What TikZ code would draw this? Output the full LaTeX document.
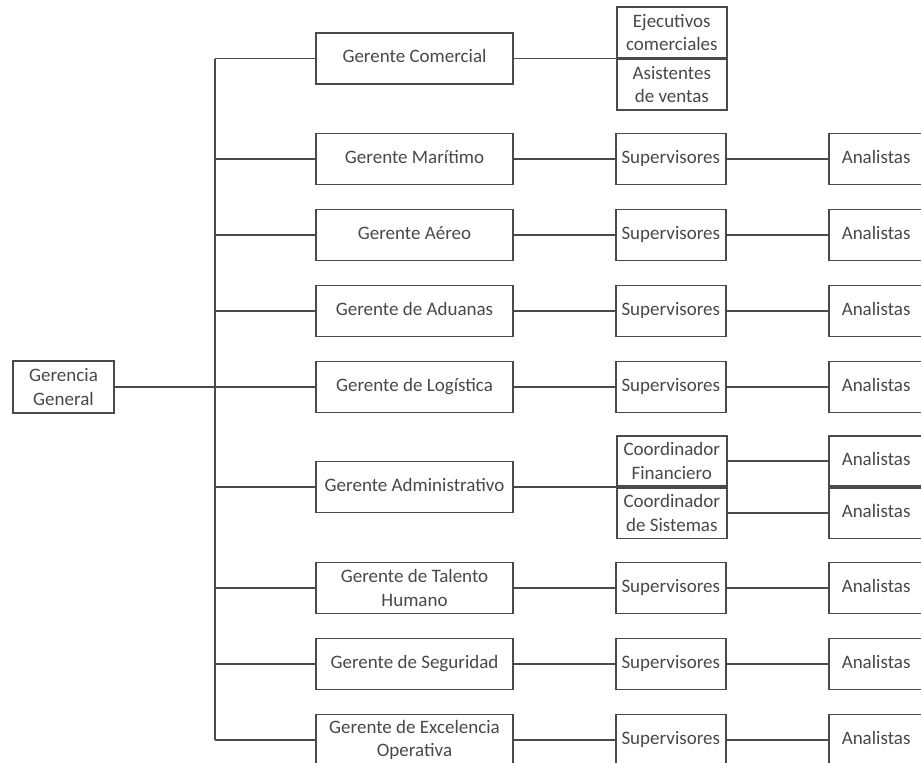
\documentclass[tikz,border=0pt]{standalone}
\usepackage{fontspec}
\setmainfont{Carlito}
\usetikzlibrary{positioning,calc}
\definecolor{orgLine}{HTML}{4A4A4A}
\definecolor{orgText}{HTML}{484848}
\tikzset{
  orgnode/.style={
    draw=orgLine, line width=1.8pt, minimum height=51pt, inner sep=0pt,
    font=\fontsize{19}{23.5}\selectfont, text=orgText, align=center
  },
  fila/.style={text height=12.5pt, text depth=4pt},
  gerente/.style={orgnode, fila, minimum width=197pt},
  gerentedos/.style={orgnode, minimum width=197pt},
  puesto/.style={orgnode, fila, minimum width=110pt},
  analista/.style={orgnode, fila, minimum width=95pt},
  celda/.style={orgnode, minimum width=110pt, minimum height=50.5pt},
  enlace/.style={draw=orgLine, line width=1.5pt}
}
\begin{document}
\begin{tikzpicture}[x=1pt, y=-1pt, node distance=101pt]
  \useasboundingbox (0,0) rectangle (921,763);
  % direccion y gerencias
  \node[orgnode, minimum width=101pt, minimum height=52pt] (gg) at (63.5,387) {Gerencia\\General};
  \node[gerente] (gcom) at (414.5,58.5) {Gerente Comercial};
  \node[gerente] (gmar) at (414.5,159) {Gerente Marítimo};
  \node[gerente] (gaer) at (414.5,235) {Gerente Aéreo};
  \node[gerente] (gadu) at (414.5,311) {Gerente de Aduanas};
  \node[gerente] (glog) at (414.5,387) {Gerente de Logística};
  \node[gerente] (gadm) at (414.5,487) {Gerente Administrativo};
  \node[gerentedos] (gtal) at (414.5,588) {Gerente de Talento\\Humano};
  \node[gerente] (gseg) at (414.5,664) {Gerente de Seguridad};
  \node[gerentedos] (gexc) at (414.5,740) {Gerente de Excelencia\\Operativa};
  \coordinate (tronco-top) at (215,58.5);
  \coordinate (tronco-bot) at (215,740);
  \draw[enlace] (tronco-top) -- (tronco-bot);
  \draw[enlace] (gg) -- (glog);
  \foreach \g in {gcom,gmar,gaer,gadu,gadm,gtal,gseg,gexc}
    \draw[enlace] (\g.west) -- (\g.west -| tronco-top);
  % comercial
  \node[celda, anchor=south west] (ejec) at ($(gcom.east)+(102,0)$) {Ejecutivos\\comerciales};
  \node[celda, anchor=north west] (asis) at (ejec.south west) {Asistentes\\de ventas};
  \draw[enlace] (gcom) -- (ejec.south west);
  % administrativo
  \node[celda, anchor=south west] (cfin) at ($(gadm.east)+(102,0)$) {Coordinador\\Financiero};
  \node[celda, anchor=north west] (csis) at (cfin.south west) {Coordinador\\de Sistemas};
  \node[analista, minimum height=50.5pt, anchor=south west] (afin) at ($(cfin.south east)+(100,0)$) {Analistas};
  \node[analista, minimum height=50.5pt, anchor=north west] (asis2) at (afin.south west) {Analistas};
  \draw[enlace] (gadm) -- (cfin.south west);
  \draw[enlace] (cfin) -- (afin);
  \draw[enlace] (csis) -- (asis2);
  % supervisores y analistas
  \foreach \g in {gmar,gaer,gadu,glog,gtal,gseg,gexc}{
    \node[puesto, right=of \g] (sup-\g) {Supervisores};
    \node[analista, right=of sup-\g] (ana-\g) {Analistas};
    \draw[enlace] (\g) -- (sup-\g) -- (ana-\g);
  }
\end{tikzpicture}
\end{document}
